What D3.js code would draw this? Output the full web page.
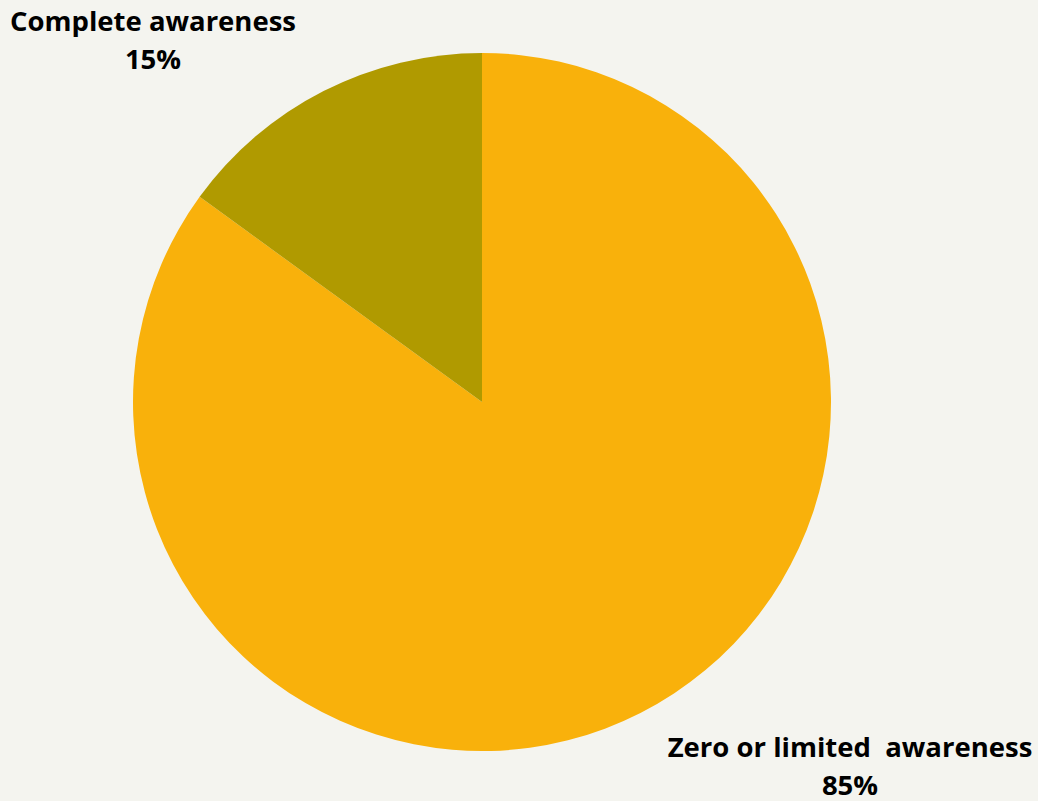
<html>
<head>
<meta charset="UTF-8">
<script src="https://d3js.org/d3.v7.min.js"></script>
<style>
  body { margin: 0; background: #f4f4ef; }
  text { font-family: "Open Sans", sans-serif; font-weight: bold; fill: #000; white-space: pre; }
</style>
</head>
<body>
<div id="chart"></div>
<script>
// data
var categories = ["Zero or limited  awareness", "Complete awareness"];
var values = [85, 15];
var colors = ["#f9b10b", "#b09a00"];

var width = 1038, height = 801;
var cx = 482, cy = 402, radius = 349;

var svg = d3.select("#chart").append("svg")
    .attr("width", width)
    .attr("height", height);

var pie = d3.pie().sort(null).value(function(d) { return d; });
var arc = d3.arc().innerRadius(0).outerRadius(radius);

var g = svg.append("g").attr("transform", "translate(" + cx + "," + cy + ")");

g.selectAll("path")
    .data(pie(values))
    .enter()
    .append("path")
    .attr("d", arc)
    .style("fill", function(d, i) { return colors[i]; });

// labels placed outside the pie, near the slice corners
var labelPos = [{x: 850, y: 757}, {x: 153, y: 31}];

var labels = svg.append("g")
    .selectAll("text")
    .data(categories)
    .enter()
    .append("text")
    .attr("x", function(d, i) { return labelPos[i].x; })
    .attr("y", function(d, i) { return labelPos[i].y; })
    .attr("text-anchor", "middle")
    .style("font-size", "27.5px");

labels.append("tspan").text(function(d) { return d; });
labels.append("tspan")
    .attr("x", function(d, i) { return labelPos[i].x; })
    .attr("dy", 37.5)
    .text(function(d, i) { return values[i] + "%"; });
</script>
</body>
</html>
